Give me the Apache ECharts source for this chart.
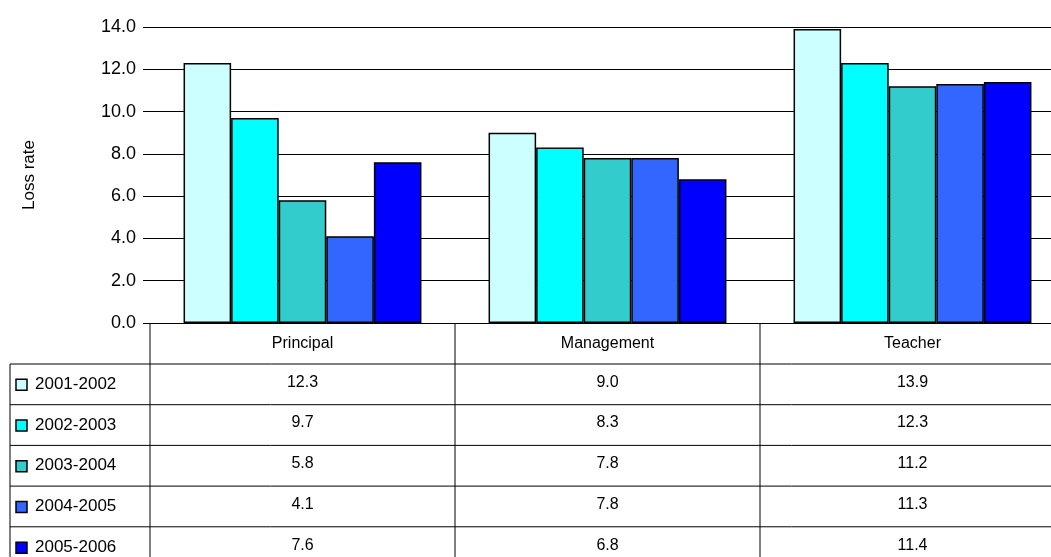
<!DOCTYPE html><html><head><meta charset="utf-8"><script src="https://cdn.jsdelivr.net/npm/echarts@6/dist/echarts.min.js"></script>
<style>html,body{margin:0;background:#fff}#c{width:1051px;height:557px}</style></head><body><div id="c"></div><script>
const categories=['Principal','Management','Teacher'];
const seriesNames=['2001-2002','2002-2003','2003-2004','2004-2005','2005-2006'];
const colors=['#ccffff','#00ffff','#33cccc','#3366ff','#0000ff'];
const s1=[12.3,9.0,13.9];
const s2=[9.7,8.3,12.3];
const s3=[5.8,7.8,11.2];
const s4=[4.1,7.8,11.3];
const s5=[7.6,6.8,11.4];
const values=[s1,s2,s3,s4,s5];
const F='Liberation Sans, Arial, sans-serif';
const chart=echarts.init(document.getElementById('c'));
chart.setOption({animation:false,
grid:{left:150,width:915,top:27,height:296,outerBoundsMode:'none',containLabel:false},
xAxis:{type:'category',data:categories,axisTick:{show:false},axisLabel:{show:false},axisLine:{lineStyle:{color:'#000',width:1}}},
yAxis:{type:'value',min:0,max:14,interval:2,name:'Loss rate',nameLocation:'middle',nameGap:112,nameTextStyle:{fontFamily:F,fontSize:17,color:'#000'},
axisLabel:{formatter:v=>v.toFixed(1),fontFamily:F,fontSize:18,color:'#000',margin:14},
axisTick:{show:true,length:7,lineStyle:{color:'#000'}},axisLine:{show:false},splitLine:{lineStyle:{color:'#000',width:1}}},
series:values.map((d,i)=>({type:'bar',name:seriesNames[i],data:d,barGap:'0%',barCategoryGap:'22%',itemStyle:{color:colors[i],borderColor:'#000',borderWidth:1.5}}))
});
const x0=chart.convertToPixel({xAxisIndex:0},0), x1=chart.convertToPixel({xAxisIndex:0},1);
const cw=x1-x0, left=x0-cw/2, right=left+3*cw, yTop=chart.convertToPixel({yAxisIndex:0},0);
const hdrH=41,rowH=40.7,tableL=10;
const g=[];const L=(a,b,c,d)=>g.push({type:'line',shape:{x1:a,y1:b,x2:c,y2:d},style:{stroke:'#000',lineWidth:1}});
const bottom=yTop+hdrH+rowH*5+5;
for(let k=0;k<=3;k++)L(left+k*cw,yTop,left+k*cw,bottom);
L(tableL,yTop+hdrH,tableL,bottom);
for(let r=0;r<=5;r++)L(tableL,yTop+hdrH+r*rowH,right,yTop+hdrH+r*rowH);
categories.forEach((c,k)=>g.push({type:'text',style:{text:c,x:left+(k+.5)*cw,y:yTop+hdrH/2,align:'center',verticalAlign:'middle',font:'16px '+F,fill:'#000'}}));
seriesNames.forEach((n,r)=>{const cy=yTop+hdrH+(r+.5)*rowH;
g.push({type:'rect',shape:{x:16,y:cy-5,width:11,height:11},style:{fill:colors[r],stroke:'#000',lineWidth:1.5}});
g.push({type:'text',style:{text:n,x:35,y:cy,verticalAlign:'middle',font:'17px '+F,fill:'#000'}});
values[r].forEach((v,k)=>g.push({type:'text',style:{text:v.toFixed(1),x:left+(k+.5)*cw,y:cy-2,align:'center',verticalAlign:'middle',font:'16px '+F,fill:'#000'}}));});
chart.setOption({graphic:g});
</script></body></html>
